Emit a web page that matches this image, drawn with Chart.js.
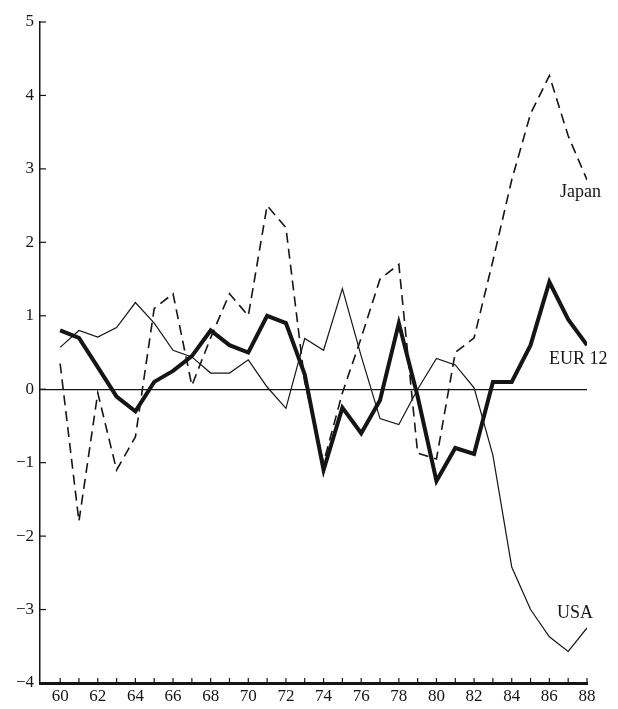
<!DOCTYPE html>
<html>
<head>
<meta charset="utf-8">
<script src="https://cdn.jsdelivr.net/npm/chart.js@4.4.1/dist/chart.umd.min.js"></script>
<style>
    html, body { margin: 0; padding: 0; background: #fff; }
    #wrap { width: 618px; height: 709px; }
</style>
</head>
<body>
<div id="wrap"><canvas id="chart-balance"></canvas></div>
<script>
const years = [60,61,62,63,64,65,66,67,68,69,70,71,72,73,74,75,76,77,78,79,80,81,82,83,84,85,86,87,88];
const japan = [0.35,-1.8,-0.05,-1.1,-0.65,1.1,1.3,0.05,0.7,1.3,1.0,2.5,2.2,0.1,-1.0,-0.05,0.7,1.5,1.7,-0.87,-0.95,0.5,0.7,1.75,2.85,3.75,4.27,3.45,2.85];
const eur12 = [0.8,0.7,0.3,-0.1,-0.3,0.1,0.25,0.45,0.8,0.6,0.5,1.0,0.9,0.2,-1.1,-0.25,-0.6,-0.15,0.9,-0.1,-1.25,-0.8,-0.88,0.1,0.1,0.6,1.46,0.95,0.6];
const usa = [0.57,0.8,0.71,0.84,1.18,0.9,0.53,0.44,0.22,0.22,0.4,0.03,-0.26,0.69,0.53,1.37,0.45,-0.4,-0.48,0.0,0.42,0.33,0.02,-0.9,-2.42,-3.0,-3.37,-3.57,-3.25];
const yTicks = [-4,-3,-2,-1,0,1,2,3,4,5];

const ink = '#151515';
const serif = '"Liberation Serif", "DejaVu Serif", serif';

const pts = arr => years.map((y, i) => ({ x: y, y: arr[i] }));

// inward tick marks + series names
const decor = {
    id: 'decor',
    afterDraw(chart) {
        const { ctx, scales: { x, y } } = chart;
        ctx.save();
        ctx.strokeStyle = ink;
        ctx.lineWidth = 1.2;
        years.forEach(v => {
            const px = x.getPixelForValue(v);
            ctx.beginPath();
            ctx.moveTo(px, y.bottom);
            ctx.lineTo(px, y.bottom - 5);
            ctx.stroke();
        });
        yTicks.forEach(v => {
            const py = y.getPixelForValue(v);
            ctx.beginPath();
            ctx.moveTo(x.left, py);
            ctx.lineTo(x.left + 6, py);
            ctx.stroke();
        });
        ctx.fillStyle = ink;
        ctx.font = '18px ' + serif;
        ctx.textBaseline = 'alphabetic';
        ctx.fillText('Japan', 560, 197);
        ctx.fillText('EUR 12', 549, 364);
        ctx.fillText('USA', 557, 618);
        ctx.restore();
    },
};

new Chart(document.getElementById('chart-balance'), {
    type: 'line',
    data: {
        datasets: [
            {
                label: 'Japan',
                data: pts(japan),
                borderColor: ink,
                borderWidth: 1.6,
                borderDash: [10, 6],
                pointRadius: 0,
                tension: 0,
            },
            {
                label: 'USA',
                data: pts(usa),
                borderColor: ink,
                borderWidth: 1.2,
                pointRadius: 0,
                tension: 0,
            },
            {
                label: 'EUR 12',
                data: pts(eur12),
                borderColor: ink,
                borderWidth: 4,
                pointRadius: 0,
                tension: 0,
                borderJoinStyle: 'miter',
            },
        ],
    },
    options: {
        responsive: true,
        maintainAspectRatio: false,
        animation: false,
        layout: { padding: { top: 22, right: 31, left: 0, bottom: 0 } },
        plugins: {
            legend: { display: false },
            tooltip: { enabled: false },
        },
        scales: {
            x: {
                type: 'linear',
                min: 58.93,
                max: 88,
                afterBuildTicks: s => { s.ticks = years.map(v => ({ value: v })); },
                afterFit: s => { s.height = 26; },
                grid: { display: false, drawTicks: false },
                border: { color: ink, width: 3 },
                ticks: {
                    color: ink,
                    autoSkip: false,
                    maxRotation: 0,
                    padding: 3,
                    font: { family: serif, size: 17 },
                    callback: v => (v % 2 === 0 ? String(v) : ''),
                },
            },
            y: {
                min: -4,
                max: 5,
                afterBuildTicks: s => { s.ticks = yTicks.map(v => ({ value: v })); },
                afterFit: s => { s.width = 40; },
                grid: {
                    drawTicks: false,
                    lineWidth: 1.2,
                    color: c => (c.tick && c.tick.value === 0 ? ink : 'transparent'),
                },
                border: { color: ink, width: 1.5 },
                ticks: {
                    color: ink,
                    padding: 6,
                    font: { family: serif, size: 17 },
                    callback: v => (v < 0 ? '\u2212' + Math.abs(v) : String(v)),
                },
            },
        },
    },
    plugins: [decor],
});
</script>
</body>
</html>
